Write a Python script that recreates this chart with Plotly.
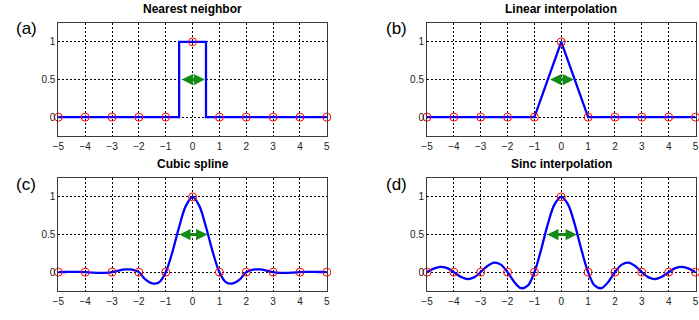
import plotly.graph_objects as go

# ---- data ----
sample_x = [-5, -4, -3, -2, -1, 0, 1, 2, 3, 4, 5]
sample_y = [0, 0, 0, 0, 0, 1, 0, 0, 0, 0, 0]

nn_x = [-5, -0.5, -0.5, 0.5, 0.5, 5]
nn_y = [0, 0, 1, 1, 0, 0]

lin_x = [-5, -1, 0, 1, 5]
lin_y = [0, 0, 1, 0, 0]

fine_x = [-5, -4.75, -4.5, -4.25, -4, -3.75, -3.5, -3.25, -3, -2.75, -2.5, -2.25,
          -2, -1.75, -1.5, -1.25, -1, -0.75, -0.5, -0.25, 0, 0.25, 0.5, 0.75, 1,
          1.25, 1.5, 1.75, 2, 2.25, 2.5, 2.75, 3, 3.25, 3.5, 3.75, 4, 4.25, 4.5,
          4.75, 5]
spline_y = [0, 0.002, 0.003, 0.003, 0, -0.005, -0.009, -0.009, 0, 0.022, 0.036, 0.035,
            0, -0.10, -0.15, -0.135, 0, 0.27, 0.60, 0.88, 1, 0.88, 0.60, 0.27, 0,
            -0.135, -0.15, -0.10, 0, 0.035, 0.036, 0.022, 0, -0.009, -0.009, -0.005,
            0, 0.003, 0.003, 0.002, 0]
sinc_y = [0, 0.047, 0.071, 0.053, 0, -0.060, -0.091, -0.069, 0, 0.082, 0.127, 0.100,
          0, -0.129, -0.212, -0.180, 0, 0.300, 0.637, 0.900, 1, 0.900, 0.637, 0.300, 0,
          -0.180, -0.212, -0.129, 0, 0.100, 0.127, 0.082, 0, -0.069, -0.091, -0.060,
          0, 0.053, 0.071, 0.047, 0]

width_half = [0.46, 0.47, 0.55, 0.58]   # green arrow half-widths at y=0.5
titles = ["Nearest neighbor", "Linear interpolation", "Cubic spline", "Sinc interpolation"]
letters = ["(a)", "(b)", "(c)", "(d)"]
x_ticks = [-5, -4, -3, -2, -1, 0, 1, 2, 3, 4, 5]
y_ticks = [0, 0.5, 1]
y_ticktext = ["0", "0.5", "1"]

# ---- layout ----
W, H = 699, 320
xdom = [[53 / W, 325 / W], [426.5 / W, 698.5 / W]]
ydom = [[(H - 136) / H, (H - 23) / H], [(H - 291) / H, (H - 178) / H]]

fig = go.Figure()
BLUE = "#0000FF"
RED = "#FF0000"
GREEN = "#138A13"

series = [(nn_x, nn_y, "linear"), (lin_x, lin_y, "linear"),
          (fine_x, spline_y, "spline"), (fine_x, sinc_y, "spline")]

annotations = []
for i in range(4):
    r, c = divmod(i, 2)
    ax = "" if i == 0 else str(i + 1)
    xa, ya = "x" + ax, "y" + ax
    lx, ly, shape = series[i]
    fig.add_trace(go.Scatter(x=lx, y=ly, mode="lines", line=dict(color=BLUE, width=2.3, shape=shape),
                             xaxis=xa, yaxis=ya, showlegend=False, cliponaxis=False))
    fig.add_trace(go.Scatter(x=sample_x, y=sample_y, mode="markers",
                             marker=dict(symbol="circle-open", color=RED, size=8, line=dict(width=1)),
                             xaxis=xa, yaxis=ya, showlegend=False, cliponaxis=False))
    common = dict(showgrid=True, gridcolor="black", griddash="2px,2px", gridwidth=1,
                  showline=True, mirror=True, linecolor="#3a3a3a", linewidth=1,
                  zeroline=False, ticks="", tickfont=dict(family="Arial", size=10, color="#222"))
    fig.layout["xaxis" + ax] = dict(domain=xdom[c], range=[-5, 5], tickvals=x_ticks,
                                    anchor=ya, ticklabelstandoff=1, **common)
    fig.layout["yaxis" + ax] = dict(domain=ydom[r], range=[-0.25, 1.25], tickvals=y_ticks,
                                    ticktext=y_ticktext, anchor=xa, **common)
    # title
    annotations.append(dict(text="<b>" + titles[i] + "</b>", xref=xa + " domain", yref=ya + " domain",
                            x=0.5, y=1.0, yshift=14, xanchor="center", yanchor="middle",
                            showarrow=False, font=dict(family="Arial", size=12, color="black")))
    # letter label
    annotations.append(dict(text=letters[i], xref="paper", yref="paper",
                            x=(8 if c == 0 else 383) / W,
                            y=(H - (29 if r == 0 else 184)) / H,
                            xanchor="left", yanchor="middle", showarrow=False,
                            font=dict(family="Arial", size=17, color="black")))
    # green double arrow
    hw = width_half[i]
    annotations.append(dict(x=hw, y=0.5, ax=-hw, ay=0.5, xref=xa, yref=ya, axref=xa, ayref=ya,
                            showarrow=True, arrowhead=2, startarrowhead=2, arrowside="end+start",
                            arrowsize=0.75, startarrowsize=0.75, arrowwidth=3, arrowcolor=GREEN, text=""))

# red arrow under panel (c)
annotations.append(dict(x=5, y=-0.53, ax=4, ay=-0.53, xref="x3", yref="y3", axref="x3", ayref="y3",
                        showarrow=True, arrowhead=2, startarrowhead=2, arrowside="end+start",
                        arrowsize=0.75, startarrowsize=0.75, arrowwidth=3, arrowcolor=RED, text=""))

fig.update_layout(width=W, height=H, margin=dict(l=0, r=0, t=0, b=0),
                  paper_bgcolor="white", plot_bgcolor="white",
                  annotations=annotations, font=dict(family="Arial"))

fig.write_html("out.html")
